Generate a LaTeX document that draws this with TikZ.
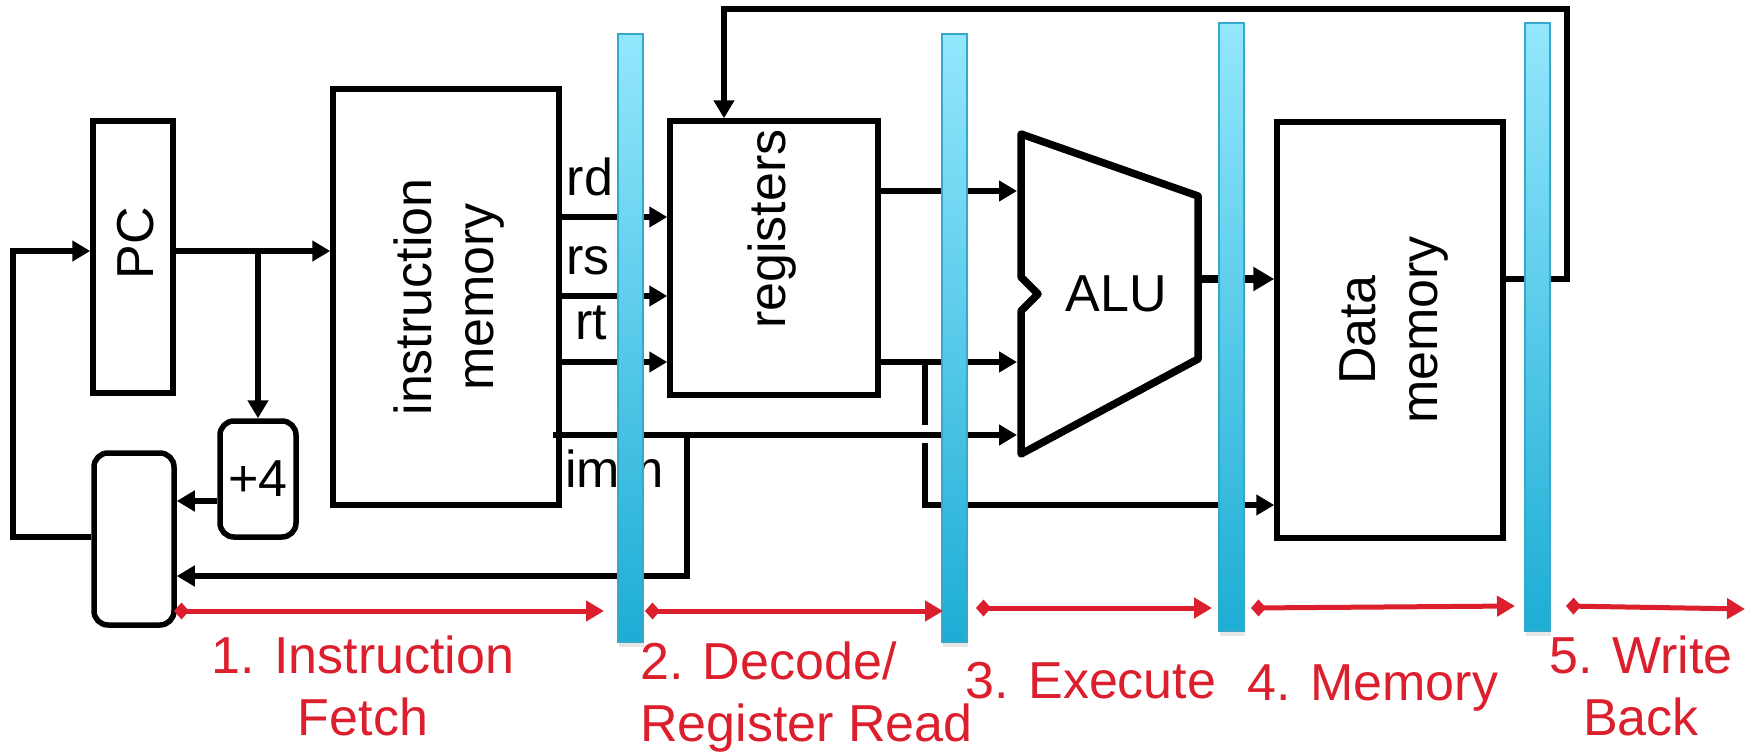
\documentclass[tikz,border=0pt]{standalone}
\usepackage{fontspec}
\setmainfont{Liberation Sans}
\usetikzlibrary{arrows.meta, positioning, shadows}
\definecolor{stagered}{HTML}{DC1F2D}
\definecolor{pipetop}{HTML}{93E7FD}
\definecolor{pipebot}{HTML}{1DADD5}
\definecolor{pipeedge}{HTML}{36A9CA}

\begin{document}
\begin{tikzpicture}[
  x=1pt, y=-1pt,
  font=\fontsize{52}{62}\selectfont,
  blk/.style={rectangle, draw, line width=5.5pt, fill=white, inner sep=0pt},
  rblk/.style={blk, rounded corners=14pt},
  wire/.style={line width=5.5pt},
  arrow/.style={wire, -{Triangle[length=18pt, width=20pt]}},
  bigarrow/.style={line width=8pt, -{Triangle[length=21pt, width=23pt]}},
  pipe/.style={rectangle, draw=pipeedge, line width=1.5pt, top color=pipetop,
               bottom color=pipebot, minimum width=25pt, minimum height=608pt,
               inner sep=0pt, drop shadow={opacity=0.2, shadow xshift=1pt, shadow yshift=-5pt}},
  stage/.style={draw=stagered, line width=5pt,
                {Diamond[length=15pt, width=17pt]}-{Triangle[length=18pt, width=20pt]}},
  stagelbl/.style={text=stagered, align=center, inner sep=0pt}
]
  \useasboundingbox (0,0) rectangle (1759,752);

  % rows and columns of the wires
  \coordinate (pcrow) at (0,251);
  \coordinate (rdrow) at (0,217);
  \coordinate (rsrow) at (0,296);
  \coordinate (rtrow) at (0,362);
  \coordinate (immrow) at (0,435);
  \coordinate (outArow) at (0,191);
  \coordinate (resrow) at (0,279);
  \coordinate (strow) at (0,505);
  \coordinate (brrow) at (0,576);
  \coordinate (incrow) at (0,501);
  \coordinate (looprow) at (0,537);
  \coordinate (loopL) at (13,537);
  \coordinate (aluL) at (1017,0);
  \coordinate (aluR) at (1198,0);
  \coordinate (brcol) at (687,0);
  \coordinate (immL) at (553,435);
  \coordinate (hopT) at (925,425);
  \coordinate (hopB) at (925,443);
  \coordinate (wbR) at (1567,9);
  \coordinate (wbL) at (724,9);

  % fetch
  \node[blk, minimum width=80pt, minimum height=272pt] (pc) at (133,257) {};
  \node[rotate=90] (pclbl) at (136,243) {PC};
  \node[rblk, minimum width=80pt, minimum height=172pt] (mux) at (134,539) {};
  \node[rblk, minimum width=76pt, minimum height=116pt] (plus) at (258,479) {+4};
  \node[blk, minimum width=226pt, minimum height=416pt] (imem) at (446,297) {};
  \node[rotate=90, align=center] (imemlbl) at (449,297) {instruction\\memory};

  % decode, execute, memory
  \node[blk, minimum width=208pt, minimum height=274pt] (regs) at (774,258) {};
  \node[rotate=90] (reglbl) at (772,229) {registers};
  \draw[line width=7.5pt, line join=round, fill=white]
    (1021,134) -- (1198,196) -- (1198,359) -- (1021,454) -- (1021,311)
    -- (1038,294) -- (1021,277) -- cycle;
  \node (alu) at (1116,294) {ALU};
  \node[blk, minimum width=226pt, minimum height=416pt] (dm) at (1390,330) {};
  \node[rotate=90, align=center] (dmlbl) at (1394,330) {Data\\memory};

  % field names
  \node (rd) at (590,177) {rd};
  \node (rs) at (588,261) {rs};
  \node (rt) at (591,323) {rt};
  \node[anchor=west, inner sep=0pt] (imm) at (565,469) {imm};

  % wires
  \draw[arrow] (mux.west |- looprow) -- (loopL) |- (pc.west |- pcrow);
  \draw[arrow] (pc.east |- pcrow) -- (imem.west |- pcrow);
  \draw[arrow] (plus.north |- pcrow) -- (plus.north);
  \draw[arrow] (plus.west |- incrow) -- (mux.east |- incrow);
  \draw[arrow] (imem.east |- rdrow) -- (regs.west |- rdrow);
  \draw[arrow] (imem.east |- rsrow) -- (regs.west |- rsrow);
  \draw[arrow] (imem.east |- rtrow) -- (regs.west |- rtrow);
  \draw[arrow] (immL) -- (aluL |- immrow);
  \draw[arrow] (brcol |- immrow) |- (mux.east |- brrow);
  \draw[arrow] (regs.east |- outArow) -- (aluL |- outArow);
  \draw[arrow] (regs.east |- rtrow) -- (aluL |- rtrow);
  \draw[wire] (hopT |- rtrow) -- (hopT);
  \draw[arrow] (hopB) |- (dm.west |- strow);
  \draw[bigarrow] (aluR |- resrow) -- (dm.west |- resrow);
  \draw[arrow] (dm.east |- resrow) -| (wbR) -- (wbL) -- (wbL |- regs.north);

  % pipeline registers
  \node[pipe] (p1) at (630.5,338) {};
  \node[pipe] (p2) at (954.5,338) {};
  \node[pipe] (p3) at (1231.5,327) {};
  \node[pipe] (p4) at (1537.5,327) {};

  % stages
  \coordinate (s1a) at (174,611);  \coordinate (s1b) at (604,611);
  \coordinate (s2a) at (645,611);  \coordinate (s2b) at (943,611);
  \coordinate (s3a) at (976,608);  \coordinate (s3b) at (1212,608);
  \coordinate (s4a) at (1251,608); \coordinate (s4b) at (1515,606);
  \coordinate (s5a) at (1566,606); \coordinate (s5b) at (1745,609);
  \draw[stage] (s1a) -- (s1b);
  \draw[stage] (s2a) -- (s2b);
  \draw[stage] (s3a) -- (s3b);
  \draw[stage] (s4a) -- (s4b);
  \draw[stage] (s5a) -- (s5b);
  \node[stagelbl] (st1) at (363,686) {1. Instruction\\Fetch};
  \node[stagelbl, align=left, anchor=west] (st2) at (640,697) {2. Decode/\\Register Read};
  \node[stagelbl] (st3) at (1091,681) {3. Execute};
  \node[stagelbl] (st4) at (1373,688) {4. Memory};
  \node[stagelbl] (st5) at (1641,686) {5. Write\\Back};
\end{tikzpicture}
\end{document}
